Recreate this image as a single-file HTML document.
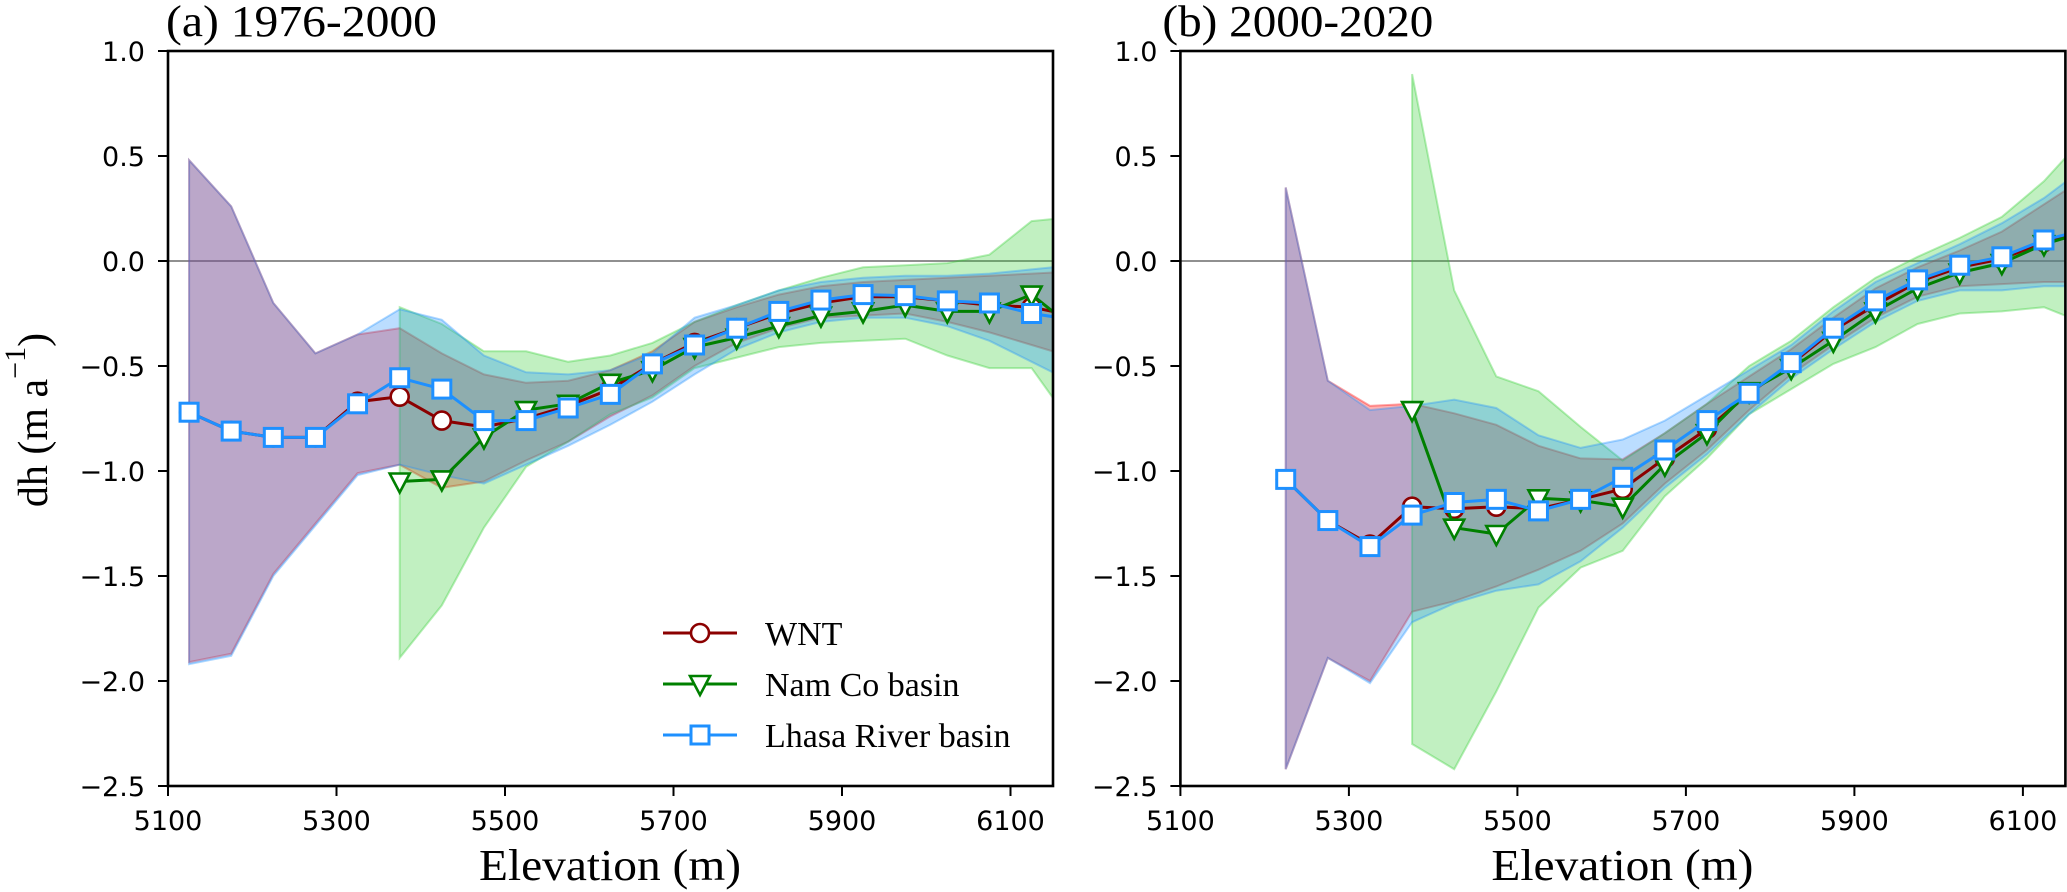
<!DOCTYPE html>
<html><head><meta charset="utf-8"><style>
html,body{margin:0;padding:0;background:#fff;}
svg{display:block;}
</style></head><body>
<svg id="chart" width="2067" height="892" viewBox="0 0 2067 892" xmlns="http://www.w3.org/2000/svg">
<defs>
<clipPath id="clipA"><rect x="168" y="51" width="885" height="735"/></clipPath>
<clipPath id="clipB"><rect x="1180.4" y="51" width="885" height="735"/></clipPath>
</defs>
</svg>
<script>
// ---------- data ----------
const aElev = [5125,5175,5225,5275,5325,5375,5425,5475,5525,5575,5625,5675,5725,5775,5825,5875,5925,5975,6025,6075,6125,6175];
const aWnt = [-0.72,-0.81,-0.84,-0.84,-0.67,-0.646,-0.76,-0.79,-0.75,-0.69,-0.61,-0.49,-0.39,-0.32,-0.25,-0.20,-0.17,-0.17,-0.19,-0.21,-0.22,-0.26];
const aWntHi = [0.48,0.26,-0.20,-0.44,-0.35,-0.32,-0.44,-0.54,-0.58,-0.57,-0.52,-0.43,-0.29,-0.22,-0.16,-0.12,-0.10,-0.09,-0.08,-0.07,-0.06,-0.05];
const aWntLo = [-1.91,-1.87,-1.49,-1.25,-1.01,-0.97,-1.08,-1.05,-0.95,-0.86,-0.74,-0.64,-0.50,-0.39,-0.32,-0.27,-0.26,-0.25,-0.29,-0.34,-0.40,-0.46];
const aNam = [null,null,null,null,null,-1.05,-1.04,-0.84,-0.71,-0.68,-0.58,-0.52,-0.41,-0.365,-0.31,-0.26,-0.24,-0.21,-0.24,-0.24,-0.16,-0.32];
const aNamHi = [null,null,null,null,null,-0.22,-0.30,-0.43,-0.43,-0.48,-0.45,-0.39,-0.29,-0.21,-0.14,-0.08,-0.03,-0.02,-0.01,0.03,0.19,0.21];
const aNamLo = [null,null,null,null,null,-1.89,-1.64,-1.27,-0.98,-0.86,-0.73,-0.65,-0.51,-0.46,-0.41,-0.39,-0.38,-0.37,-0.45,-0.51,-0.51,-0.79];
const aLhasa = [-0.72,-0.81,-0.84,-0.84,-0.68,-0.556,-0.61,-0.76,-0.76,-0.70,-0.635,-0.49,-0.40,-0.32,-0.24,-0.186,-0.16,-0.165,-0.19,-0.20,-0.25,-0.28];
const aLhasaHi = [0.48,0.26,-0.20,-0.44,-0.35,-0.23,-0.28,-0.45,-0.53,-0.54,-0.52,-0.44,-0.27,-0.21,-0.14,-0.10,-0.08,-0.07,-0.07,-0.06,-0.04,-0.02];
const aLhasaLo = [-1.92,-1.88,-1.50,-1.26,-1.02,-0.97,-1.02,-1.06,-0.97,-0.88,-0.78,-0.67,-0.54,-0.42,-0.34,-0.29,-0.27,-0.27,-0.31,-0.38,-0.48,-0.58];

const bElev = [5225,5275,5325,5375,5425,5475,5525,5575,5625,5675,5725,5775,5825,5875,5925,5975,6025,6075,6125,6175];
const bWnt = [-1.04,-1.236,-1.35,-1.17,-1.18,-1.17,-1.18,-1.135,-1.085,-0.94,-0.80,-0.63,-0.49,-0.33,-0.21,-0.10,-0.03,0.01,0.09,0.15];
const bWntHi = [0.35,-0.57,-0.69,-0.68,-0.725,-0.78,-0.88,-0.94,-0.945,-0.82,-0.68,-0.55,-0.42,-0.27,-0.13,-0.03,0.05,0.14,0.27,0.40];
const bWntLo = [-2.42,-1.89,-2.00,-1.67,-1.62,-1.55,-1.47,-1.38,-1.25,-1.06,-0.90,-0.71,-0.54,-0.40,-0.27,-0.17,-0.12,-0.11,-0.10,-0.10];
const bNam = [null,null,null,-0.71,-1.27,-1.30,-1.13,-1.14,-1.17,-0.97,-0.82,-0.62,-0.51,-0.38,-0.24,-0.13,-0.055,-0.01,0.08,0.14];
const bNamHi = [null,null,null,0.89,-0.14,-0.55,-0.62,-0.79,-0.95,-0.82,-0.68,-0.50,-0.38,-0.22,-0.08,0.02,0.11,0.21,0.38,0.60];
const bNamLo = [null,null,null,-2.30,-2.42,-2.05,-1.65,-1.46,-1.38,-1.12,-0.94,-0.73,-0.61,-0.49,-0.41,-0.30,-0.25,-0.24,-0.22,-0.30];
const bLhasa = [-1.04,-1.236,-1.36,-1.21,-1.15,-1.135,-1.19,-1.135,-1.03,-0.90,-0.76,-0.63,-0.484,-0.32,-0.19,-0.09,-0.02,0.02,0.10,0.15];
const bLhasaHi = [0.35,-0.57,-0.71,-0.69,-0.66,-0.70,-0.83,-0.89,-0.85,-0.76,-0.64,-0.52,-0.40,-0.24,-0.10,-0.01,0.08,0.18,0.30,0.45];
const bLhasaLo = [-2.42,-1.89,-2.01,-1.72,-1.63,-1.57,-1.54,-1.43,-1.27,-1.08,-0.92,-0.73,-0.56,-0.42,-0.29,-0.19,-0.14,-0.14,-0.12,-0.12];

const xTicks = [5100,5300,5500,5700,5900,6100];
const yTicks = [1.0,0.5,0.0,-0.5,-1.0,-1.5,-2.0,-2.5];
const yTickLabels = ["1.0","0.5","0.0","\u22120.5","\u22121.0","\u22121.5","\u22122.0","\u22122.5"];
const seriesNames = ["WNT","Nam Co basin","Lhasa River basin"];

// ---------- drawing ----------
const NS = "http://www.w3.org/2000/svg";
const svg = document.getElementById("chart");
const Y0 = 261, YK = 210, PXM = 0.8425;
const yS = v => Y0 - v * YK;
const COL = {red:"#ff0000", green:"#32cd32", blue:"#1e90ff"};
const LINE = {wnt:"#8b0000", nam:"#008000", lhasa:"#1e90ff"};

function mk(tag, attrs, parent) {
  const e = document.createElementNS(NS, tag);
  for (const k in attrs) e.setAttribute(k, attrs[k]);
  (parent || svg).appendChild(e);
  return e;
}

function band(g, xs, xf, hi, lo, color, name) {
  const top = [], bot = [];
  for (let i = 0; i < xs.length; i++) {
    if (hi[i] === null) continue;
    top.push(xf(xs[i]).toFixed(1) + "," + yS(hi[i]).toFixed(1));
    bot.unshift(xf(xs[i]).toFixed(1) + "," + yS(lo[i]).toFixed(1));
  }
  const p = mk("polygon", {points: top.concat(bot).join(" "), fill: color, "fill-opacity": 0.3, stroke: color, "stroke-opacity": 0.35, "stroke-width": 2}, g);
  
  
}

function marker(g, type, cx, cy, name) {
  let e;
  if (type === "circle") {
    e = mk("circle", {cx: cx, cy: cy, r: 9, fill: "#fff", stroke: LINE.wnt, "stroke-width": 2.6}, g);
  } else if (type === "tri") {
    e = mk("polygon", {points: (cx-10)+","+(cy-8)+" "+(cx+10)+","+(cy-8)+" "+cx+","+(cy+11), fill: "#fff", stroke: LINE.nam, "stroke-width": 2.6}, g);
  } else {
    e = mk("rect", {x: cx-9, y: cy-9, width: 18, height: 18, fill: "#fff", stroke: LINE.lhasa, "stroke-width": 3}, g);
  }
  
  
}

function series(g, xs, xf, vals, color, type, name) {
  const pts = [];
  for (let i = 0; i < xs.length; i++) if (vals[i] !== null) pts.push([xf(xs[i]), yS(vals[i])]);
  const pl = mk("polyline", {points: pts.map(p => p[0].toFixed(1)+","+p[1].toFixed(1)).join(" "), fill: "none", stroke: color, "stroke-width": 3, "stroke-linejoin": "round"}, g);
  
  
  pts.forEach(p => marker(g, type, p[0], p[1], name + '-marker'));
}

function panel(id, X0, xs, wnt, wHi, wLo, nam, nHi, nLo, lh, lHi, lLo, clip, title, withYLabel) {
  const xf = e => X0 + (e - 5100) * PXM;
  const W = 885, top = 51, bottom = 786;
  const g = mk("g", {"clip-path": "url(#" + clip + ")"});
  
  
  // zero line
  const z = mk("line", {x1: X0, x2: X0 + W, y1: yS(0), y2: yS(0), stroke: "#808080", "stroke-width": 1.8}, g);
  
  
  band(g, xs, xf, wHi, wLo, COL.red, "wnt-band");
  band(g, xs, xf, nHi, nLo, COL.green, "nam-co-band");
  band(g, xs, xf, lHi, lLo, COL.blue, "lhasa-band");
  series(g, xs, xf, wnt, LINE.wnt, "circle", "wnt");
  series(g, xs, xf, nam, LINE.nam, "tri", "nam-co");
  series(g, xs, xf, lh, LINE.lhasa, "square", "lhasa");
  // spines
  const fr = mk("rect", {x: X0, y: top, width: W, height: bottom - top, fill: "none", stroke: "#000", "stroke-width": 2.6});
  
  
  // x ticks
  xTicks.forEach(t => {
    const x = xf(t);
    const tl = mk("line", {x1: x, x2: x, y1: bottom, y2: bottom + 10, stroke: "#000", "stroke-width": 2});
    
    
    const tx = mk("text", {x: x, y: 830, "text-anchor": "middle", "font-family": "DejaVu Sans, sans-serif", "font-size": 27});
    
    
    tx.textContent = String(t);
  });
  yTicks.forEach((t, i) => {
    const y = yS(t);
    const tl = mk("line", {x1: X0 - 10, x2: X0, y1: y, y2: y, stroke: "#000", "stroke-width": 2});
    
    
    const tx = mk("text", {x: X0 - 23, y: y + 10, "text-anchor": "end", "font-family": "DejaVu Sans, sans-serif", "font-size": 27});
    
    
    tx.textContent = yTickLabels[i];
  });
  const tt = mk("text", {x: X0 - 2 - (id === "panel-b" ? 16 : 0), y: 36, "font-family": "Liberation Serif, serif", "font-size": 44, textLength: 271, lengthAdjust: "spacingAndGlyphs"});
  
  
  tt.textContent = title;
  const xl = mk("text", {x: X0 + 442, y: 880, "text-anchor": "middle", "font-family": "Liberation Serif, serif", "font-size": 44, textLength: 262, lengthAdjust: "spacingAndGlyphs"});
  
  
  xl.textContent = "Elevation (m)";
}

panel("panel-a", 168, aElev, aWnt, aWntHi, aWntLo, aNam, aNamHi, aNamLo, aLhasa, aLhasaHi, aLhasaLo, "clipA", "(a) 1976-2000", true);
panel("panel-b", 1180.4, bElev, bWnt, bWntHi, bWntLo, bNam, bNamHi, bNamLo, bLhasa, bLhasaHi, bLhasaLo, "clipB", "(b) 2000-2020", false);

// y-axis title
const yl = mk("text", {x: 0, y: 0, transform: "translate(47,420) rotate(-90)", "text-anchor": "middle", "font-family": "Liberation Serif, serif", "font-size": 42});


yl.appendChild(document.createTextNode("dh (m a"));
const sup = mk("tspan", {dy: -22, "font-size": 30}, yl);
sup.textContent = "\u22121";
const cl = mk("tspan", {dy: 22}, yl);
cl.textContent = ")";

// legend
const lg = mk("g", {});


const legY = [633, 684, 735];
const legType = ["circle", "tri", "square"];
const legCol = [LINE.wnt, LINE.nam, LINE.lhasa];
seriesNames.forEach((n, i) => {
  const ln = mk("line", {x1: 663, x2: 737, y1: legY[i], y2: legY[i], stroke: legCol[i], "stroke-width": 3}, lg);
  
  
  marker(lg, legType[i], 700, legY[i], 'legend-marker');
  const t = mk("text", {x: 765, y: legY[i] + 12, "font-family": "Liberation Serif, serif", "font-size": 34}, lg);
  
  
  t.textContent = n;
});
</script>
</body></html>
